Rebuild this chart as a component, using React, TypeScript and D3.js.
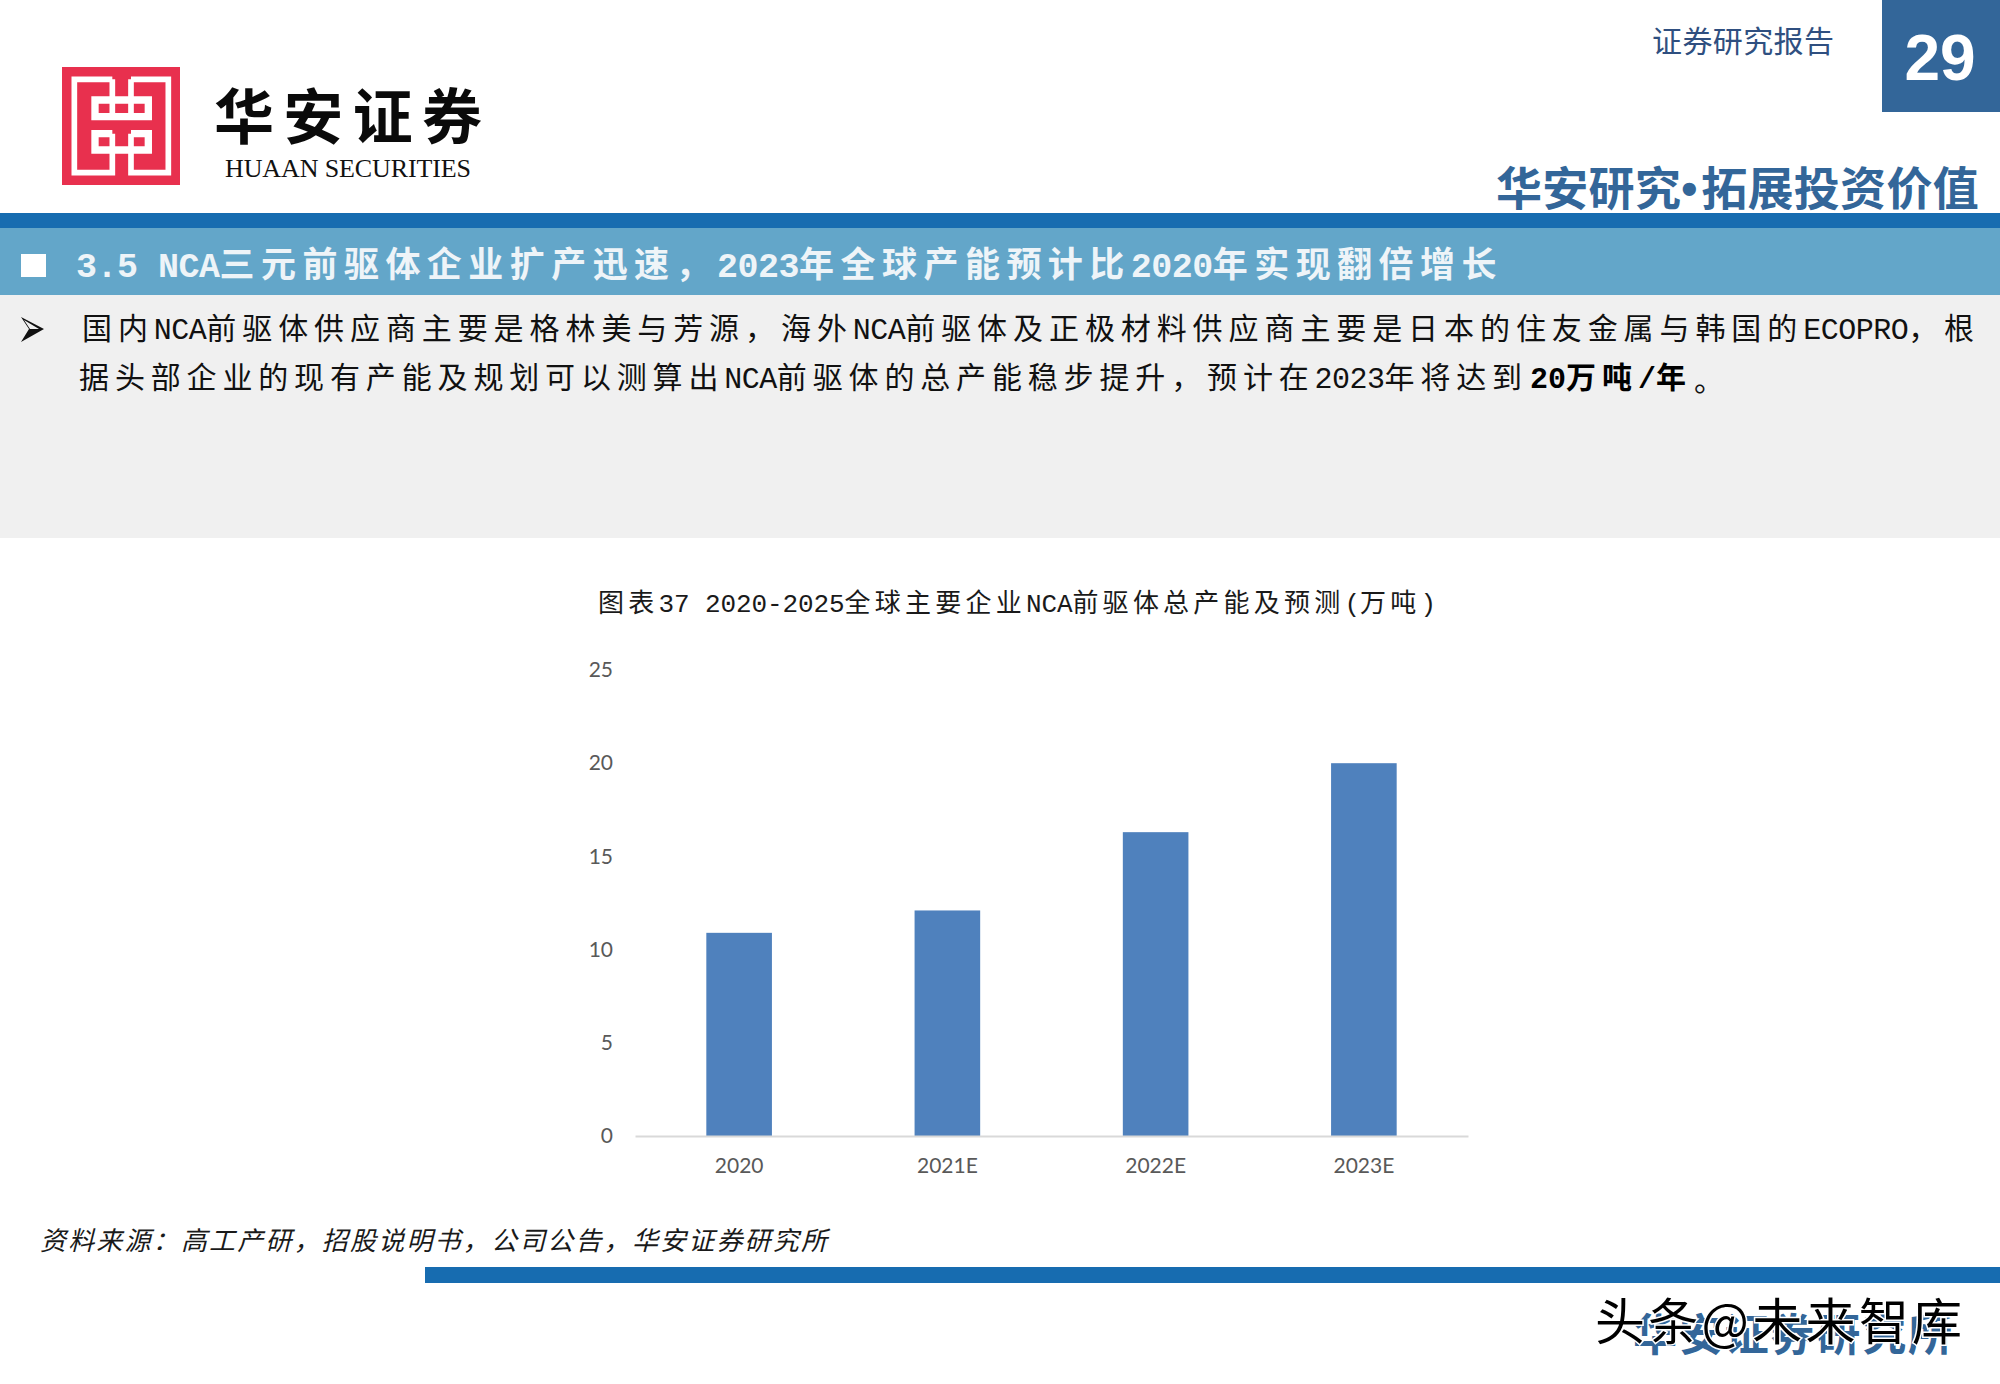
import React, { useEffect, useRef } from 'react';
import * as d3 from 'd3';

const categories = ['2020', '2021E', '2022E', '2023E'];
const capacity = [10.9, 12.1, 16.3, 20.0];
const yTicks = [0, 5, 10, 15, 20, 25];

const CJK = '"Noto Sans CJK SC", sans-serif';
const MIXED = '"Liberation Mono", "Noto Sans CJK SC", monospace';
const LATIN = '"Liberation Sans", Arial, sans-serif';
const TICK_FONT = 'Lato, "Open Sans", sans-serif';

const BLUE = '#176cb0';
const BAND = '#63a6c9';
const PANEL = '#f0f0f0';
const PAGE_BLUE = '#336699';
const BAR = '#4f81bd';

const plot = { left: 635, right: 1468, top: 670, bottom: 1136 };

const isNarrow = (c: string) => /[\x00-\x7f•]/.test(c);

// one x per character: narrow ones get a fixed advance, the CJK ones share what is left
const charXs = (text: string, x0: number, x1: number, narrow: number) => {
  const chars = Array.from(text);
  const narrowCount = chars.filter(isNarrow).length;
  const pitch = (x1 - x0 - narrowCount * narrow) / (chars.length - narrowCount);
  let x = x0;
  return chars
    .map(c => {
      const at = x;
      x += isNarrow(c) ? narrow : pitch;
      return at.toFixed(1);
    })
    .join(' ');
};

// text stretched to the extent it has in the page
const Fit = ({ x0, x1, y, size, fill = '#111', weight = 400, font = CJK, italic = false, narrow, children }: any) => (
  <text
    x={narrow ? charXs(children, x0, x1, narrow) : x0}
    y={y}
    fontSize={size}
    fill={fill}
    fontWeight={weight}
    fontFamily={font}
    fontStyle={italic ? 'italic' : 'normal'}
    dominantBaseline="central"
    textLength={narrow ? undefined : x1 - x0}
    lengthAdjust={narrow ? undefined : 'spacing'}
  >
    {children}
  </text>
);

const Logo = () => (
  <g>
    <rect x={62} y={67} width={118} height={118} fill="#e8304e" />
    <g transform="translate(55,60) scale(0.3333)" fill="none" stroke="#fff" strokeWidth={17}>
      <path d="M172,58 H58 V338 H172 V272" />
      <path d="M228,58 H340 V338 H228 V272" />
      <path d="M172,58 V120 M228,58 V120" />
      <path d="M120,120 H280 V170 H120 Z" strokeWidth={22} />
      <path d="M172,120 V170 M228,120 V170" />
      <path d="M172,221 H120 V270 H280 V221 H228" strokeWidth={22} />
      <path d="M172,221 V270 M228,221 V270" />
    </g>
    <Fit x0={214} x1={482} y={112} size={60} weight={700} fill="#0a0a0a">华安证券</Fit>
    <Fit x0={225} x1={471} y={168} size={26} font='"Liberation Serif", serif' fill="#111">HUAAN SECURITIES</Fit>
  </g>
);

const Chart = () => {
  const ref = useRef<SVGGElement>(null);

  useEffect(() => {
    if (!ref.current) return;
    const g = d3.select(ref.current);
    g.selectAll('*').remove();

    const x = d3.scaleBand<string>()
      .domain(categories)
      .range([plot.left, plot.right])
      .paddingInner(0.685)
      .paddingOuter(0.3425);
    const y = d3.scaleLinear().domain([0, 25]).range([plot.bottom, plot.top]);

    g.selectAll('.bar')
      .data(categories)
      .enter()
      .append('rect')
      .attr('class', 'bar')
      .attr('x', d => x(d) as number)
      .attr('y', (_, i) => y(capacity[i]))
      .attr('width', x.bandwidth())
      .attr('height', (_, i) => plot.bottom - y(capacity[i]))
      .attr('fill', BAR);

    const yAxis = g.append('g')
      .attr('transform', `translate(${plot.left},0)`)
      .call(d3.axisLeft(y).tickValues(yTicks).tickSize(0).tickPadding(22));
    yAxis.select('.domain').remove();

    const xAxis = g.append('g')
      .attr('transform', `translate(0,${plot.bottom})`)
      .call(d3.axisBottom(x).tickSize(0).tickPadding(22));
    xAxis.select('.domain').attr('stroke', '#d9d9d9').attr('stroke-width', 2);

    g.selectAll('.tick text')
      .attr('font-family', TICK_FONT)
      .attr('font-size', 21)
      .attr('fill', '#595959');
  }, []);

  return <g ref={ref} />;
};

export default function App() {
  return (
    <svg
      width={2000}
      height={1384}
      viewBox="0 0 2000 1384"
      style={{ position: 'absolute', left: 0, top: 0, background: '#fff' }}
    >
      <Logo />

      {/* page header */}
      <Fit x0={1652} x1={1834} y={39} size={30} fill="#2f4f80">证券研究报告</Fit>
      <rect x={1882} y={0} width={118} height={112} fill={PAGE_BLUE} />
      <text x={1940} y={58} fontSize={64} fontWeight={700} fontFamily={LATIN} fill="#fff" textAnchor="middle" dominantBaseline="central">29</text>
      <Fit x0={1496} x1={1979} y={189} size={46} weight={700} fill={PAGE_BLUE} font={`"Liberation Sans", ${CJK}`} narrow={20}>华安研究•拓展投资价值</Fit>

      {/* section band */}
      <rect x={0} y={213} width={2000} height={15} fill={BLUE} />
      <rect x={0} y={228} width={2000} height={67} fill={BAND} />
      <rect x={21} y={254} width={25} height={23} fill="#fff" />
      <Fit x0={76} x1={1503} y={268} size={35} weight={700} fill="#eef4f8" font={MIXED} narrow={20.5}>3.5 NCA三元前驱体企业扩产迅速，2023年全球产能预计比2020年实现翻倍增长</Fit>

      {/* body text */}
      <rect x={0} y={295} width={2000} height={243} fill={PANEL} />
      <path d="M21,317 L44,329 L21,342 L29,329 Z M24,320 L39,329 L30,329 Z" fill="#111" fillRule="evenodd" />
      <Fit x0={82} x1={1980} y={331} size={30} font={MIXED} narrow={17.5}>国内NCA前驱体供应商主要是格林美与芳源，海外NCA前驱体及正极材料供应商主要是日本的住友金属与韩国的ECOPRO，根</Fit>
      <Fit x0={79} x1={1528} y={380} size={30} font={MIXED} narrow={17.5}>据头部企业的现有产能及规划可以测算出NCA前驱体的总产能稳步提升，预计在2023年将达到</Fit>
      <Fit x0={1530} x1={1692} y={380} size={30} weight={700} fill="#000" font={MIXED} narrow={18}>20万吨/年</Fit>
      <text x={1694} y={378} fontSize={30} fontFamily={CJK} fill="#111" dominantBaseline="central">。</text>

      {/* chart */}
      <Fit x0={598} x1={1436} y={605} size={26} fill="#1a1a1a" font={MIXED} narrow={15.5}>图表37 2020-2025全球主要企业NCA前驱体总产能及预测(万吨)</Fit>
      <Chart />
      <Fit x0={40} x1={827} y={1238} size={26} italic fill="#1a1a1a">资料来源：高工产研，招股说明书，公司公告，华安证券研究所</Fit>

      {/* footer */}
      <rect x={425} y={1267} width={1575} height={16} fill={BLUE} />
      <Fit x0={1633} x1={1952} y={1332} size={44} weight={700} fill={PAGE_BLUE}>华安证券研究所</Fit>
      <text
        x={1595}
        y={1318}
        fontSize={50}
        fontFamily={CJK}
        fill="#000"
        stroke="#fff"
        strokeWidth={3}
        paintOrder="stroke"
        dominantBaseline="central"
        textLength={367}
        lengthAdjust="spacing"
      >
        头条@未来智库
      </text>
    </svg>
  );
}
